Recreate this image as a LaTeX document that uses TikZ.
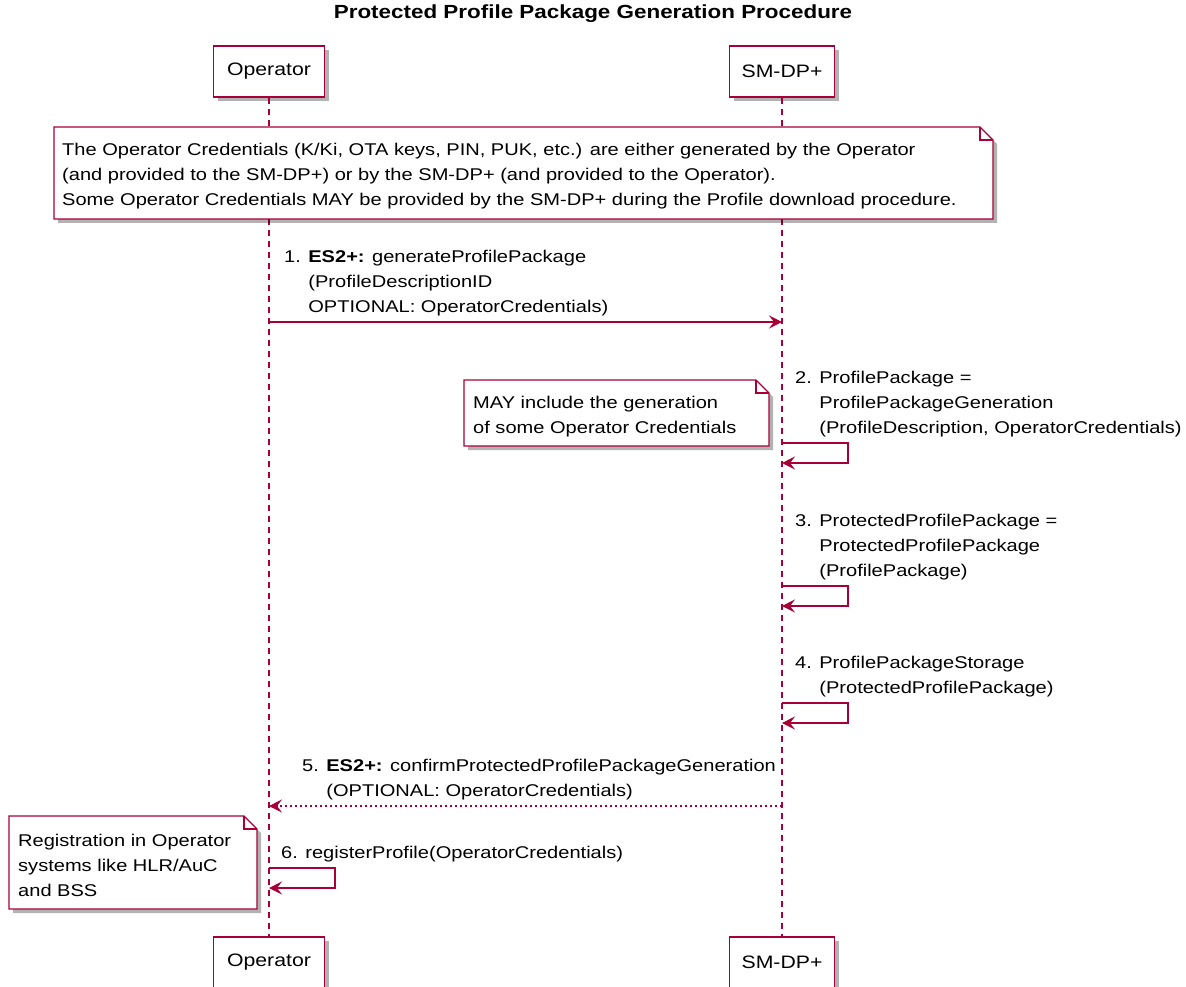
\documentclass[tikz,border=0pt]{standalone}
\usepackage{fontspec}
\setmainfont{Liberation Sans}[FakeStretch=1.18]
\usetikzlibrary{arrows.meta,shadows,positioning}
\definecolor{umlred}{HTML}{A80036}
\newcommand{\notebox}[4]{%
  \draw[note] (#1,#2) -- (#3-13,#2) -- (#3,#2+13) -- (#3,#4) -- (#1,#4) -- cycle;
  \draw[umlred, line width=1.2pt] (#3-13,#2) -- (#3-13,#2+13) -- (#3,#2+13);}

\begin{document}
\begin{tikzpicture}[x=1pt, y=-1pt, font=\fontsize{17}{25}\selectfont,
    actor/.style={draw=umlred, line width=1.4pt, fill=white, minimum height=51pt, inner sep=0pt,
      font=\fontsize{18}{22}\selectfont,
      drop shadow={shadow xshift=4pt, shadow yshift=-4pt, opacity=.3, fill=black}},
    note/.style={draw=umlred, line width=1.2pt, fill=white,
      drop shadow={shadow xshift=4pt, shadow yshift=-4pt, opacity=.3, fill=black}},
    lifeline/.style={umlred, line width=1.2pt, dash pattern=on 6pt off 5pt},
    msg/.style={umlred, line width=1.3pt, -{Stealth[length=13pt, width=13pt, inset=5pt]}},
    reply/.style={msg, dash pattern=on 2.5pt off 2.5pt},
    msgtext/.style={anchor=base west, inner sep=0pt},
    notetext/.style={anchor=base west, inner sep=0pt}]
    \useasboundingbox (0,0) rectangle (1186,987);
    \node (title) at (593,14) {\bfseries\fontsize{19}{22}\selectfont Protected Profile Package Generation Procedure};
    \node (opHead) [actor, minimum width=111pt] at (269,71.5) {Operator};
    \node (sdHead) [actor, minimum width=105pt] at (782,71.5) {SM-DP+};
    \node (opFoot) [actor, minimum width=111pt] at (269,962.5) {Operator};
    \node (sdFoot) [actor, minimum width=105pt] at (782,962.5) {SM-DP+};
    \draw[lifeline] (opHead) -- (opFoot);
    \draw[lifeline] (sdHead) -- (sdFoot);

    \notebox{54}{127}{993}{219}
    \node (credNote) [notetext] at (62,156) {\begin{tabular}[t]{@{}l@{}}
      The Operator Credentials (K/Ki, OTA keys, PIN, PUK, etc.) are either generated by the Operator\\
      (and provided to the SM-DP+) or by the SM-DP+ (and provided to the Operator).\\
      Some Operator Credentials MAY be provided by the SM-DP+ during the Profile download procedure.
      \end{tabular}};

    \coordinate (op1) at (opHead.south |- 0,322);
    \coordinate (sd1) at (sdHead.south |- 0,322);
    \node (m1) [msgtext] at (284,312) {\begin{tabular}[b]{@{}l@{ }l@{}}
      1. & \textbf{ES2+:} generateProfilePackage\\
      & (ProfileDescriptionID\\
      & OPTIONAL: OperatorCredentials)
      \end{tabular}};
    \draw[msg] (op1) -- (sd1);

    \notebox{464}{380}{769}{446}
    \node (genNote) [notetext] at (473,408) {\begin{tabular}[t]{@{}l@{}}
      MAY include the generation\\
      of some Operator Credentials
      \end{tabular}};
    \coordinate (sd2a) at (sdHead.south |- 0,443);
    \coordinate (sd2b) at (sdHead.south |- 0,463);
    \node (m2) [msgtext] at (795,433) {\begin{tabular}[b]{@{}l@{ }l@{}}
      2. & ProfilePackage =\\
      & ProfilePackageGeneration\\
      & (ProfileDescription, OperatorCredentials)
      \end{tabular}};
    \draw[msg] (sd2a) -- ++(66,0) |- (sd2b);

    \coordinate (sd3a) at (sdHead.south |- 0,586);
    \coordinate (sd3b) at (sdHead.south |- 0,606);
    \node (m3) [msgtext] at (795,576) {\begin{tabular}[b]{@{}l@{ }l@{}}
      3. & ProtectedProfilePackage =\\
      & ProtectedProfilePackage\\
      & (ProfilePackage)
      \end{tabular}};
    \draw[msg] (sd3a) -- ++(66,0) |- (sd3b);

    \coordinate (sd4a) at (sdHead.south |- 0,703);
    \coordinate (sd4b) at (sdHead.south |- 0,723);
    \node (m4) [msgtext] at (795,693) {\begin{tabular}[b]{@{}l@{ }l@{}}
      4. & ProfilePackageStorage\\
      & (ProtectedProfilePackage)
      \end{tabular}};
    \draw[msg] (sd4a) -- ++(66,0) |- (sd4b);

    \coordinate (sd5) at (sdHead.south |- 0,806);
    \coordinate (op5) at (opHead.south |- 0,806);
    \node (m5) [msgtext] at (302,796) {\begin{tabular}[b]{@{}l@{ }l@{}}
      5. & \textbf{ES2+:} confirmProtectedProfilePackageGeneration\\
      & (OPTIONAL: OperatorCredentials)
      \end{tabular}};
    \draw[reply] (sd5) -- (op5);

    \notebox{9}{816}{257}{909}
    \node (regNote) [notetext] at (18,846) {\begin{tabular}[t]{@{}l@{}}
      Registration in Operator\\
      systems like HLR/AuC\\
      and BSS
      \end{tabular}};
    \coordinate (op6a) at (opHead.south |- 0,868);
    \coordinate (op6b) at (opHead.south |- 0,888);
    \node (m6) [msgtext] at (281,858) {6. registerProfile(OperatorCredentials)};
    \draw[msg] (op6a) -- ++(66,0) |- (op6b);
\end{tikzpicture}
\end{document}
